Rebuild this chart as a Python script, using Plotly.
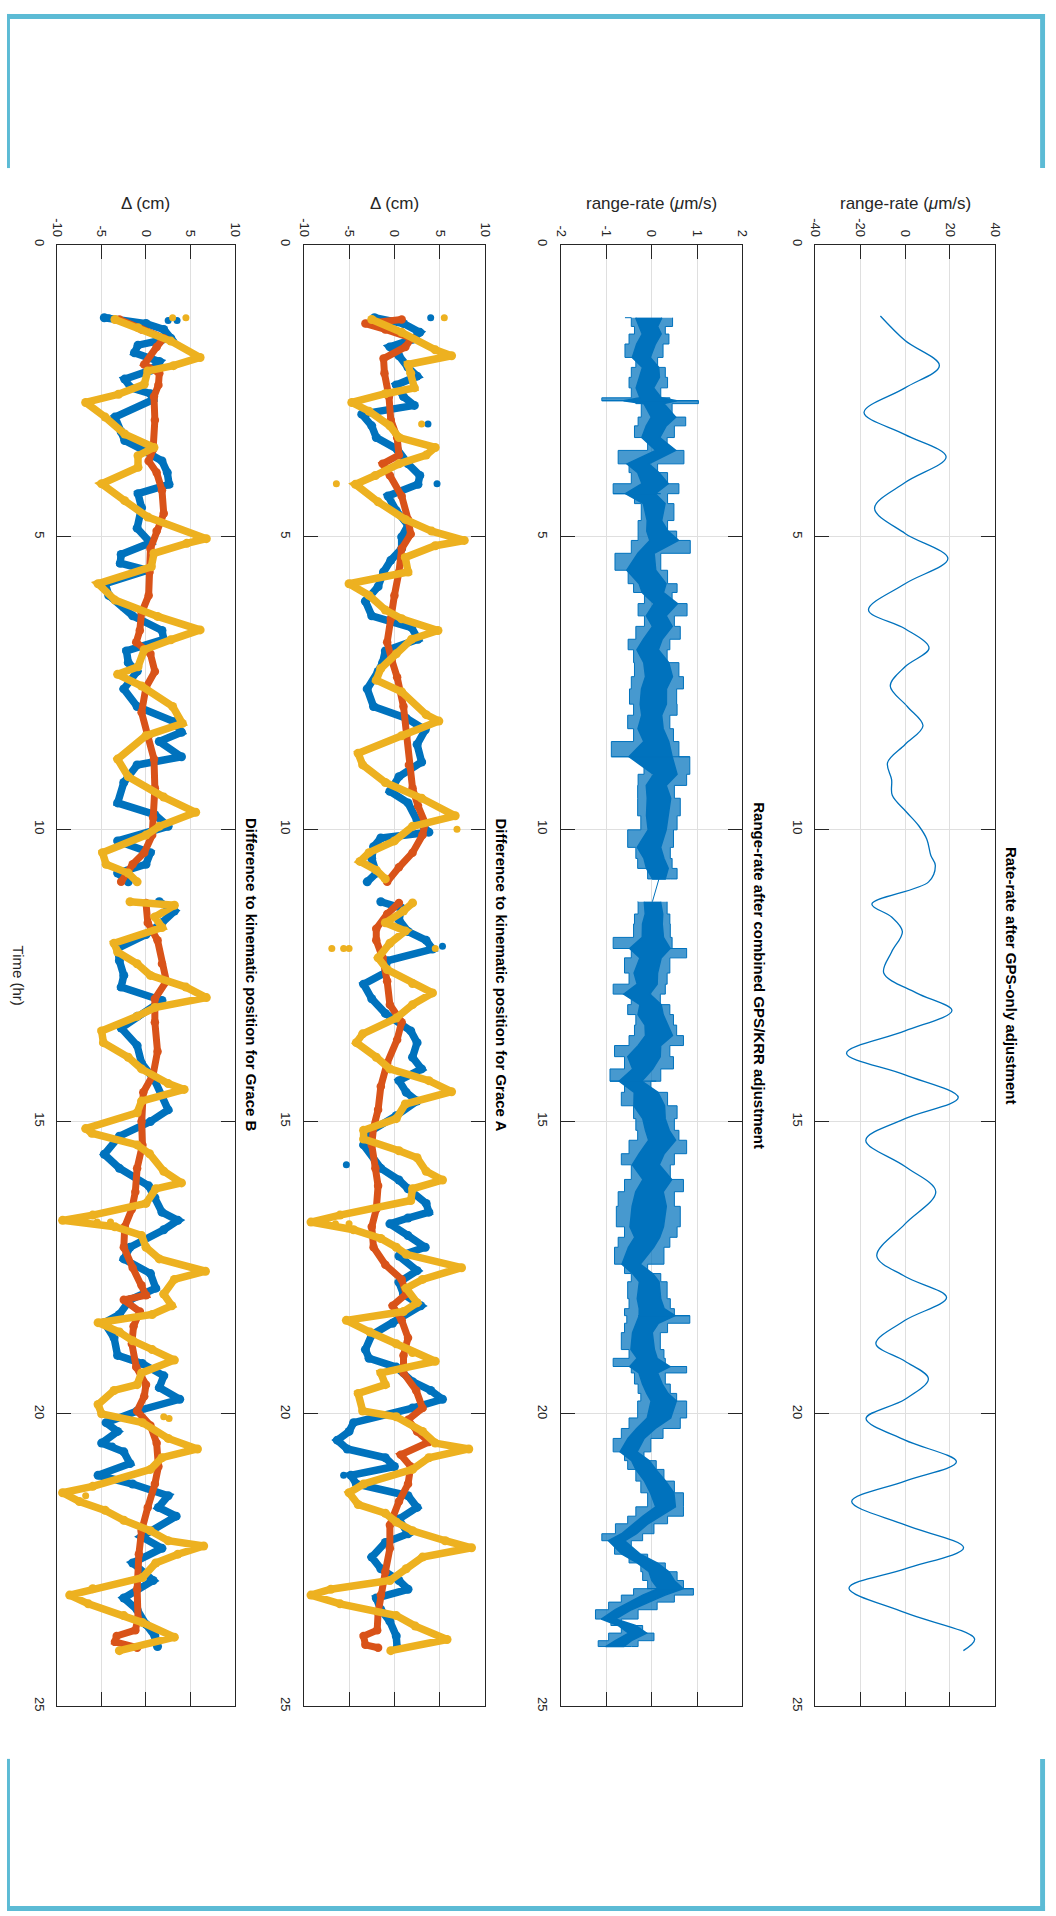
import plotly.graph_objects as go

W, H = 1056, 1916
FONT = "Liberation Sans, Arial, Helvetica, sans-serif"
INK = "#262626"
GRID = "#DFDFDF"
BLUE, RED, YELLOW = "#0072BD", "#D95319", "#EDB120"
BLUE_HAZE = "rgba(0,114,189,0.72)"
FRAME = "#5CBBD5"

# ---------------------------------------------------------------- data
# time (hr) ticks shared by every panel
time_ticks = [0, 5, 10, 15, 20, 25]

# Rate-rate after GPS-only adjustment: (time hr, range-rate um/s)
gps_only = [(1.22, -11.0), (1.64, 0.0), (2.07, 15.3), (2.45, 0.0), (2.87, -18.3), (3.25, 0.0),
            (3.63, 18.3), (4.07, 0.0), (4.51, -13.6), (4.94, 0.0), (5.37, 19.1), (5.8, 0.0),
            (6.25, -16.3), (6.57, 0.0), (6.9, 10.7), (7.22, 0.0), (7.55, -6.6), (7.9, 1.0),
            (8.23, 8.0), (8.55, 0.0), (8.86, -7.8), (9.15, -6.0), (9.42, -5.7), (9.7, 0.5),
            (9.94, 6.1), (10.17, 9.7), (10.45, 11.5), (10.62, 13.5), (10.9, 10.5), (11.28, -14.8),
            (11.5, -6.0), (11.75, -1.2), (12.1, -6.0), (12.46, -9.5), (12.8, 5.0), (13.1, 20.9),
            (13.45, 0.0), (13.83, -26.1), (14.2, 0.0), (14.59, 23.7), (14.95, 0.0), (15.32, -17.5),
            (15.77, 0.0), (16.2, 13.7), (16.75, 0.0), (17.3, -12.6), (17.65, 0.0), (18.01, 18.5),
            (18.4, 0.0), (18.8, -13.0), (19.1, 0.0), (19.4, 10.4), (19.75, 0.0), (20.08, -17.4),
            (20.45, 0.0), (20.82, 22.9), (21.15, 0.0), (21.5, -23.8), (21.9, 0.0), (22.29, 26.1),
            (22.65, 0.0), (22.98, -25.0), (23.4, 0.0), (23.85, 31.0), (24.05, 26.0)]

# Range-rate after combined GPS/KRR adjustment: (time hr, low, high) of the noisy trace
rr_band = [(1.25, -0.59, 0.46), (1.4, -0.45, 0.30), (1.53, -0.38, 0.38), (1.7, -0.5, 0.25),
           (1.93, -0.59, 0.13), (2.1, -0.35, 0.3), (2.27, -0.45, 0.35), (2.45, -0.5, 0.2),
           (2.62, -0.45, 0.4), (2.67, -1.1, 1.03), (2.72, -0.35, 0.45), (2.95, -0.23, 0.75),
           (3.1, -0.3, 0.5), (3.3, -0.38, 0.34), (3.52, -0.09, 0.71), (3.75, -0.74, 0.13),
           (3.9, -0.5, 0.35), (4.09, -0.45, 0.6), (4.26, -0.85, 0.35), (4.43, -0.38, 0.49),
           (4.72, -0.23, 0.35), (4.9, -0.3, 0.55), (5.06, -0.3, 0.85), (5.28, -0.45, 0.2),
           (5.57, -0.81, 0.35), (5.8, -0.52, 0.56), (5.95, -0.4, 0.45), (6.14, -0.16, 0.78),
           (6.35, -0.3, 0.5), (6.53, -0.16, 0.63), (6.75, -0.35, 0.4), (6.93, -0.52, 0.34),
           (7.15, -0.4, 0.6), (7.39, -0.38, 0.70), (7.6, -0.45, 0.55), (7.86, -0.49, 0.56),
           (8.05, -0.4, 0.4), (8.28, -0.53, 0.48), (8.5, -0.4, 0.6), (8.76, -0.89, 0.84),
           (9.06, -0.17, 0.77), (9.25, -0.3, 0.5), (9.47, -0.31, 0.63), (9.77, -0.31, 0.56),
           (10.01, -0.24, 0.48), (10.31, -0.53, 0.41), (10.5, -0.35, 0.45), (10.67, -0.31, 0.56),
           (10.85, -0.09, 0.41),
           (11.24, -0.31, 0.34), (11.45, -0.3, 0.4), (11.62, -0.38, 0.41), (11.85, -0.4, 0.45),
           (12.04, -0.85, 0.77), (12.2, -0.45, 0.4), (12.46, -0.6, 0.34), (12.65, -0.5, 0.3),
           (12.82, -0.85, 0.19), (13.0, -0.45, 0.4), (13.17, -0.53, 0.48), (13.35, -0.35, 0.55),
           (13.53, -0.38, 0.70), (13.7, -0.5, 0.4), (13.89, -0.82, 0.48), (14.1, -0.6, 0.2),
           (14.31, -0.92, -0.02), (14.5, -0.6, 0.35), (14.73, -0.67, 0.56), (14.95, -0.4, 0.5),
           (15.15, -0.35, 0.6), (15.32, -0.31, 0.77), (15.55, -0.5, 0.5), (15.74, -0.67, 0.41),
           (15.99, -0.45, 0.70), (16.2, -0.6, 0.5), (16.45, -0.74, 0.63), (16.8, -0.78, 0.56),
           (16.98, -0.6, 0.4), (17.15, -0.74, 0.27), (17.44, -0.82, -0.09), (17.6, -0.6, 0.2),
           (17.74, -0.45, 0.34), (18.03, -0.53, 0.41), (18.2, -0.5, 0.5), (18.32, -0.6, 0.84),
           (18.45, -0.55, 0.35), (18.61, -0.6, 0.19), (18.9, -0.67, 0.27), (19.05, -0.5, 0.3),
           (19.19, -0.85, 0.77), (19.3, -0.45, 0.3), (19.49, -0.38, 0.41), (19.65, -0.3, 0.55),
           (19.78, -0.24, 0.77), (20.07, -0.31, 0.63), (20.25, -0.5, 0.25), (20.42, -0.67, -0.02),
           (20.65, -0.85, -0.17), (20.8, -0.6, 0.1), (20.95, -0.53, 0.27), (21.15, -0.35, 0.5),
           (21.35, -0.24, 0.70), (21.59, -0.09, 0.70), (21.75, -0.35, 0.35), (21.88, -0.53, 0.05),
           (22.05, -0.8, -0.2), (22.17, -1.1, -0.45), (22.4, -0.82, -0.09), (22.55, -0.5, 0.3),
           (22.7, -0.24, 0.56), (22.85, -0.2, 0.7), (22.99, -0.09, 0.92), (23.1, -0.4, 0.5),
           (23.22, -0.67, 0.12), (23.35, -0.95, -0.3), (23.51, -1.24, -0.67), (23.62, -0.9, -0.2),
           (23.75, -0.67, 0.05), (23.88, -0.95, -0.3), (23.98, -1.18, -0.45)]
# single-sample excursions of the combined residuals: (time hr, low, high)
rr_spikes = [(2.67, -1.1, 1.03), (4.26, -0.85, 0.2), (8.76, -0.89, 0.84), (12.04, -0.85, 0.77),
             (19.19, -0.85, 0.77), (18.32, -0.3, 0.84), (14.31, -0.92, 0.1), (22.99, -0.1, 0.92)]

# Difference to kinematic position for Grace B: (time hr, delta cm)
grace_b_blue = [(1.25, -4.7), (1.35, 0.0), (1.45, 2.0), (1.6, 2.8), (1.72, -0.9), (1.85, -1.3),
                (2.0, 1.5), (2.15, 0.5), (2.3, -2.4), (2.45, -1.7), (2.55, 0.5), (2.65, 0.8),
                (2.95, -3.5), (3.2, -2.8), (3.35, -2.4), (3.5, -0.5), (3.7, 1.8), (3.9, 2.4),
                (4.1, 2.6), (4.26, -0.9), (4.5, -0.5), (4.85, -1.0), (5.1, 0.5), (5.3, -2.8),
                (5.45, -2.9), (5.57, 0.2), (5.8, -4.6), (6.0, -4.2), (6.2, -2.5), (6.35, -1.5),
                (6.6, 1.8), (6.75, 2.0), (6.95, -2.2), (7.15, -2.0), (7.3, -1.0), (7.6, -2.5),
                (7.9, -1.0), (8.16, 3.2), (8.34, 4.0), (8.5, 1.5), (8.76, 4.0), (8.9, -1.0),
                (9.2, -2.5), (9.55, -3.2), (9.75, 1.0), (9.95, 2.5), (10.2, -3.2), (10.4, 0.5),
                (10.6, 0.0), (10.75, -3.2), (10.9, -2.0),
                (11.24, 1.5), (11.4, 3.2), (11.6, 1.8), (11.8, 0.0), (12.04, -3.2), (12.25, -3.0),
                (12.5, -2.5), (12.7, -2.8), (12.93, 1.8), (13.2, -1.0), (13.4, -2.8), (13.7, -1.0),
                (14.0, -0.5), (14.3, 1.0), (14.55, 1.8), (14.8, 2.5), (15.0, 0.5), (15.25, -3.0),
                (15.56, -4.7), (15.8, -3.0), (16.1, 0.3), (16.3, 1.0), (16.55, 1.8), (16.69, 3.6),
                (16.85, 2.0), (17.15, -1.8), (17.35, -2.5), (17.6, 0.5), (17.85, 1.1), (18.05, -1.8),
                (18.3, -3.0), (18.44, -4.7), (18.7, -3.6), (19.0, -3.2), (19.14, -0.4), (19.35, 2.0),
                (19.55, 1.5), (19.75, 3.8), (19.95, -1.0), (20.15, -4.5), (20.3, -3.2), (20.5, -5.0),
                (20.65, -2.5), (20.85, -1.8), (21.05, -5.4), (21.2, -1.5), (21.4, 2.5), (21.6, 1.4),
                (21.75, 3.4), (22.1, -0.5), (22.3, 1.8), (22.55, -1.5), (22.85, 0.8), (23.15, -2.5),
                (23.35, -1.0), (23.6, 0.0), (23.8, 1.0), (23.98, 1.3)]
grace_b_red = [(1.28, -3.0), (1.45, -0.5), (1.6, 2.0), (1.75, 1.2), (2.05, -0.2), (2.2, 1.5),
               (2.4, 1.4), (2.6, 0.9), (3.0, 1.0), (3.5, 0.8), (3.7, 0.3), (3.9, 1.2), (4.2, 1.8),
               (4.6, 2.0), (4.9, 1.2), (5.2, 0.5), (5.6, 0.4), (6.0, 0.3), (6.3, -0.5), (6.6, -0.7),
               (6.8, -1.1), (7.0, 0.5), (7.3, 1.0), (7.57, 0.0), (8.0, -0.5), (8.4, 0.3), (8.8, 0.9),
               (9.3, 1.0), (9.8, 0.8), (10.1, 0.7), (10.4, -0.2), (10.6, -1.5), (10.9, -2.8),
               (11.26, 0.0), (11.6, 0.2), (11.9, 1.3), (12.3, 1.8), (12.6, 2.3), (12.9, 1.0),
               (13.3, 1.0), (13.8, 1.3), (14.2, 0.8), (14.5, -0.3), (15.0, -0.5), (15.4, -0.4),
               (15.8, -1.0), (16.2, -1.2), (16.5, -1.6), (16.8, -2.4), (17.15, -2.5), (17.5, -1.5),
               (17.8, -0.5), (17.97, 0.0), (18.05, -2.5), (18.25, -0.7), (18.5, -1.4), (18.8, -1.6),
               (19.2, -1.1), (19.5, 0.0), (19.7, -0.2), (19.95, -1.0), (20.2, 0.5), (20.5, 1.2),
               (20.9, 1.4), (21.2, 1.0), (21.6, 0.2), (22.0, -0.5), (22.4, -0.8), (23.0, -1.0),
               (23.5, -0.9), (23.7, -1.2), (23.8, -3.3), (23.9, -3.5), (24.0, -1.0)]
grace_b_yellow = [(1.28, -3.5), (1.42, -0.9), (1.65, 2.8), (1.93, 6.1), (2.07, 3.1), (2.16, 0.2),
                  (2.39, -0.2), (2.56, -3.1), (2.70, -6.8), (2.95, -4.6), (3.24, -2.4), (3.47, 0.9),
                  (3.61, -0.9), (3.81, -0.9), (4.09, -5.0), (4.38, -2.4), (4.66, 0.2), (5.03, 6.8),
                  (5.11, 4.6), (5.28, 0.9), (5.51, 0.6), (5.80, -5.4), (6.08, -3.5), (6.36, 1.3),
                  (6.59, 6.1), (6.76, 2.8), (6.93, -0.2), (7.22, -0.9), (7.35, -3.2), (7.55, -0.5),
                  (7.9, 3.0), (8.19, 4.1), (8.4, 0.0), (8.8, -3.2), (9.1, -2.0), (9.45, 2.0),
                  (9.71, 5.6), (9.95, 1.5), (10.1, 0.0), (10.4, -4.9), (10.6, -4.5), (10.75, -2.0),
                  (10.9, -1.0),
                  (11.24, -1.8), (11.3, 3.2), (11.5, 1.0), (11.68, 1.8), (11.95, -3.6), (12.1, -3.2),
                  (12.3, -1.0), (12.5, 0.5), (12.7, 4.5), (12.88, 6.8), (13.05, 1.0), (13.2, -1.0),
                  (13.45, -5.0), (13.65, -4.8), (13.9, -2.0), (14.1, -0.5), (14.35, 2.5), (14.45, 4.3),
                  (14.65, -0.5), (14.85, -1.0), (15.12, -6.8), (15.2, -6.1), (15.4, -1.0), (15.55, 0.4),
                  (15.85, 2.0), (16.05, 4.0), (16.15, 1.1), (16.4, 0.0), (16.6, -6.0), (16.69, -9.4),
                  (16.8, -3.5), (16.95, -0.5), (17.15, 0.0), (17.35, 1.5), (17.56, 6.7), (17.7, 3.2),
                  (17.95, 2.0), (18.15, 2.9), (18.3, 0.7), (18.44, -5.4), (18.6, -3.0), (18.75, -1.5),
                  (18.9, 0.7), (19.08, 3.2), (19.3, -0.5), (19.5, -1.0), (19.6, -3.6), (19.84, -5.4),
                  (20.0, -5.0), (20.15, -0.4), (20.42, 2.5), (20.6, 5.8), (20.75, 1.8), (20.95, 0.5),
                  (21.24, -6.0), (21.35, -9.4), (21.5, -7.5), (21.65, -4.6), (21.82, -2.5), (22.0, 0.5),
                  (22.17, 2.5), (22.26, 6.5), (22.4, 3.6), (22.55, 1.1), (22.8, -0.4), (22.99, -6.0),
                  (23.1, -8.6), (23.25, -6.5), (23.45, -2.5), (23.57, -0.4), (23.82, 3.2), (24.05, -3.0)]
# isolated samples away from the main tracks (Grace B)
grace_b_blue_stray = [(1.25, -4.2), (1.3, 2.5), (1.3, 3.5), (5.85, -4.9), (20.55, -3.8)]
grace_b_yellow_stray = [(1.25, 3.0), (1.25, 4.5), (16.72, -7.0), (16.72, -5.5), (16.72, -4.0),
                        (20.05, 2.0), (20.08, 2.6), (21.4, -6.8)]

# Difference to kinematic position for Grace A: (time hr, delta cm)
grace_a_blue = [(1.25, -2.2), (1.35, 1.0), (1.5, 2.8), (1.62, 2.0), (1.75, -0.5), (1.9, 0.5),
                (2.1, 1.5), (2.25, 2.5), (2.4, 0.2), (2.6, 1.0), (2.75, 2.2), (2.9, -3.6),
                (3.1, -2.5), (3.3, -2.0), (3.5, 0.3), (3.75, 1.5), (3.95, 2.8), (4.1, 2.6),
                (4.3, -0.7), (4.55, 0.2), (4.8, 1.5), (5.0, 0.8), (5.2, 0.8), (5.4, -0.4),
                (5.6, -1.2), (5.85, -1.8), (6.1, -3.2), (6.35, -2.5), (6.55, 1.9), (6.75, 2.6),
                (6.95, -1.0), (7.15, -1.3), (7.3, -1.8), (7.6, -3.0), (7.9, -2.3), (8.1, 1.3),
                (8.3, 3.4), (8.55, 2.5), (8.85, 3.0), (9.1, 0.5), (9.35, -0.5), (9.55, 1.5),
                (9.85, 2.5), (10.05, 3.8), (10.15, -1.5), (10.3, -2.3), (10.5, -2.5), (10.75, -2.0),
                (10.9, -3.0),
                (11.24, -1.5), (11.35, 0.8), (11.55, 0.5), (11.75, 1.5), (11.9, 3.5), (12.05, 4.2),
                (12.25, -0.8), (12.45, -1.0), (12.65, -3.4), (12.9, -2.5), (13.15, -1.0), (13.45, 1.8),
                (13.65, 2.5), (13.9, 2.0), (14.1, 3.0), (14.3, 0.5), (14.5, 1.3), (14.65, 2.5),
                (14.9, 0.2), (15.2, -3.0), (15.4, -3.4), (15.8, -1.5), (16.0, 0.5), (16.15, 1.5),
                (16.4, 3.5), (16.55, 3.8), (16.65, 1.5), (16.75, -0.5), (16.95, 1.5), (17.15, 3.4),
                (17.3, 0.5), (17.55, 2.5), (17.75, 0.5), (17.95, 1.0), (18.15, 2.9), (18.45, -0.2),
                (18.65, -2.5), (18.9, -3.2), (19.05, -2.8), (19.2, 0.2), (19.45, 2.0), (19.6, 4.0),
                (19.75, 5.3), (19.9, 2.0), (20.15, -4.5), (20.3, -5.0), (20.45, -6.3), (20.6, -5.2),
                (20.75, -1.0), (20.9, 0.0), (21.05, -4.8), (21.2, -4.2), (21.4, 1.5), (21.6, 2.5),
                (21.8, 0.5), (22.05, 1.5), (22.2, -1.0), (22.45, -2.5), (22.65, -1.5), (22.85, 0.5),
                (23.0, 1.5), (23.15, -2.0), (23.35, -1.5), (23.55, -0.5), (23.8, 0.2), (24.0, 0.3)]
grace_a_red = [(1.28, 0.8), (1.35, -3.2), (1.45, -1.0), (1.6, 1.9), (1.75, 1.2), (1.95, -1.2),
               (2.2, -1.1), (2.6, -0.6), (3.0, -0.4), (3.3, 0.3), (3.6, 0.5), (3.75, -1.3),
               (3.95, -0.5), (4.3, 0.8), (4.7, 1.5), (4.95, 1.8), (5.2, 0.8), (5.6, 0.5),
               (6.0, 0.0), (6.4, -0.4), (6.8, -0.8), (7.1, -0.3), (7.4, 0.3), (7.9, 1.0),
               (8.4, 1.3), (8.9, 1.6), (9.3, 2.0), (9.6, 2.6), (9.9, 3.4), (10.1, 3.1),
               (10.4, 2.0), (10.65, 0.5), (10.9, -0.8),
               (11.26, 0.5), (11.45, -0.8), (11.7, -2.0), (11.9, -2.0), (12.2, -1.3), (12.6, -0.8),
               (13.0, -0.5), (13.3, 0.8), (13.6, 0.3), (14.0, -0.8), (14.4, -1.5), (14.8, -1.8),
               (15.1, -2.3), (15.4, -2.5), (15.8, -2.1), (16.1, -1.8), (16.5, -2.0), (16.8, -2.5),
               (17.15, -2.3), (17.45, -1.0), (17.7, 0.8), (17.95, 1.3), (18.15, -0.2), (18.4, 0.8),
               (18.7, 1.5), (19.0, 1.0), (19.3, 1.0), (19.6, 2.4), (19.9, 3.1), (20.1, 1.5),
               (20.3, 2.5), (20.48, 3.8), (20.7, 0.7), (20.9, 1.8), (21.2, 1.5), (21.5, 0.5),
               (21.9, -0.5), (22.3, -0.5), (22.7, -1.0), (23.1, -1.5), (23.4, -1.8), (23.7, -1.9),
               (23.8, -3.4), (23.95, -3.2), (24.0, -1.8)]
grace_a_yellow = [(1.28, -2.5), (1.5, 0.8), (1.8, 4.5), (1.9, 6.3), (2.05, 1.5), (2.2, 1.8),
                  (2.45, 2.2), (2.55, -1.0), (2.7, -4.7), (2.85, -2.8), (3.1, -0.5), (3.3, 0.5),
                  (3.47, 4.5), (3.6, 3.5), (3.75, 0.5), (3.95, -2.1), (4.1, -4.3), (4.4, -1.8),
                  (4.7, 1.2), (4.9, 4.1), (5.06, 7.7), (5.15, 4.5), (5.35, 1.2), (5.6, 1.5),
                  (5.8, -5.0), (6.0, -2.8), (6.25, -1.0), (6.4, 0.8), (6.6, 4.8), (6.75, 1.9),
                  (7.0, 0.2), (7.25, -1.5), (7.45, -2.0), (7.65, 0.8), (8.04, 3.5), (8.15, 4.9),
                  (8.4, 0.8), (8.7, -4.0), (8.9, -3.5), (9.2, -1.0), (9.47, 3.0), (9.77, 6.7),
                  (9.95, 2.0), (10.2, 0.0), (10.4, -2.8), (10.55, -3.8), (10.7, -2.0), (10.85, -1.0),
                  (11.26, 2.0), (11.4, 1.0), (11.6, -1.0), (11.74, 1.2), (11.95, -0.5), (12.2, -1.8),
                  (12.4, -0.8), (12.64, 2.0), (12.8, 4.2), (13.0, 2.0), (13.23, 0.2), (13.5, -3.5),
                  (13.65, -4.2), (13.9, -2.0), (14.1, -0.5), (14.3, 3.8), (14.49, 6.3), (14.7, 1.2),
                  (14.95, 0.2), (15.15, -3.4), (15.3, -3.4), (15.5, 0.5), (15.62, 2.5), (15.85, 3.5),
                  (16.0, 5.3), (16.15, 2.0), (16.35, 1.8), (16.6, -6.0), (16.72, -9.2), (16.85, -4.5),
                  (17.0, -1.5), (17.15, 0.2), (17.27, 1.3), (17.5, 7.4), (17.7, 3.1), (17.85, 1.3),
                  (18.1, 2.5), (18.25, 1.0), (18.4, -5.3), (18.6, -2.7), (18.8, 0.2), (18.95, 2.0),
                  (19.1, 4.5), (19.3, -1.5), (19.5, -1.0), (19.65, -4.0), (19.95, -3.5), (20.05, 0.2),
                  (20.3, 3.1), (20.5, 4.5), (20.6, 8.2), (20.75, 3.8), (20.95, 2.0), (21.2, -3.4),
                  (21.35, -5.0), (21.55, -4.0), (21.7, -1.0), (21.85, 0.2), (22.0, 2.0), (22.17, 5.6),
                  (22.29, 8.5), (22.45, 3.1), (22.65, 1.3), (22.85, -0.5), (23.0, -7.0), (23.1, -9.2),
                  (23.25, -6.0), (23.45, 0.2), (23.63, 2.3), (23.86, 5.8), (24.05, -0.4)]
# isolated samples away from the main tracks (Grace A)
grace_a_blue_stray = [(1.25, 4.0), (3.07, 3.7), (4.09, 4.7), (12.0, 5.3), (15.74, -5.3),
                      (21.05, -5.6)]
grace_a_yellow_stray = [(1.25, 5.5), (3.07, 3.0), (4.09, -6.4), (12.04, -6.9), (12.04, -5.6),
                        (12.04, -5.0), (12.04, 4.5), (16.75, -6.5), (16.75, -5.0), (10.0, 6.9)]

# outage in the kinematic positions (hr)
DATA_GAP = (10.95, 11.2)

# ---------------------------------------------------------------- layout geometry (px)
TOP, BOTTOM = 240, 1710
PANELS = [(51, 231), (301, 485), (562, 746), (820, 1002)]
CORE = 0.55   # share of the noise band drawn as its dense core


def fx(px):
    return px / W


def fy(py):
    return 1 - py / H


def track(rows):
    """Split a (t, v) series where it crosses the data outage."""
    xs, ys, prev = [], [], None
    for t, v in rows:
        if prev is not None and prev < DATA_GAP[0] and t > DATA_GAP[1]:
            xs.append(None)
            ys.append(None)
        xs.append(v)
        ys.append(t)
        prev = t
    return xs, ys


def dots(rows, n, col):
    return go.Scatter(x=[v for _, v in rows], y=[t for t, _ in rows], mode="markers",
                      marker=dict(color=col, size=7), xaxis=f"x{n}", yaxis=f"y{n}",
                      hoverinfo="skip", showlegend=False)


fig = go.Figure()

# Grace B (panel 1) and Grace A (panel 2): blue, red, yellow tracks
for n, series, strays in ((1, (grace_b_blue, grace_b_red, grace_b_yellow),
                           (grace_b_blue_stray, grace_b_yellow_stray)),
                          (2, (grace_a_blue, grace_a_red, grace_a_yellow),
                           (grace_a_blue_stray, grace_a_yellow_stray))):
    fig.add_trace(dots(strays[0], n, BLUE))
    for rows, col, w in zip(series, (BLUE, RED, YELLOW), (7.5, 7, 7.5)):
        xs, ys = track(rows)
        fig.add_trace(go.Scatter(
            x=xs, y=ys, mode="lines+markers",
            line=dict(color=col, width=w), marker=dict(color=col, size=w + 1.5),
            xaxis=f"x{n}", yaxis=f"y{n}", hoverinfo="skip", showlegend=False))
    fig.add_trace(dots(strays[1], n, YELLOW))

# combined GPS/KRR range-rate residuals, split at the outage
segments, cur = [], []
for row in rr_band:
    if cur and cur[-1][0] < DATA_GAP[0] and row[0] > DATA_GAP[1]:
        segments.append(cur)
        cur = []
    cur.append(row)
segments.append(cur)

for seg in segments:
    ts = [r[0] for r in seg]
    lo = [r[1] for r in seg]
    hi = [r[2] for r in seg]
    mid = [(a + b) / 2 for a, b in zip(lo, hi)]
    half = [(b - a) / 2 * CORE for a, b in zip(lo, hi)]
    # outer envelope with stepped, ragged edges
    fig.add_trace(go.Scatter(
        x=hi + lo[::-1], y=ts + ts[::-1], mode="lines", fill="toself",
        fillcolor=BLUE_HAZE, line=dict(color=BLUE, width=1, shape="vh"),
        xaxis="x3", yaxis="y3", hoverinfo="skip", showlegend=False))
    # dense core
    cx = [m + h for m, h in zip(mid, half)] + [m - h for m, h in zip(mid, half)][::-1]
    fig.add_trace(go.Scatter(
        x=cx, y=ts + ts[::-1], mode="lines", fill="toself",
        fillcolor=BLUE, line=dict(color=BLUE, width=1.5),
        xaxis="x3", yaxis="y3", hoverinfo="skip", showlegend=False))

# single-sample excursions
sx, sy = [], []
for t, a, b in rr_spikes:
    sx += [a, b, None]
    sy += [t, t, None]
fig.add_trace(go.Scatter(
    x=sx, y=sy, mode="lines", line=dict(color=BLUE, width=1.2),
    xaxis="x3", yaxis="y3", hoverinfo="skip", showlegend=False))

# straight connector drawn across the outage
a, b = segments[0][-1], segments[1][0]
fig.add_trace(go.Scatter(
    x=[(a[1] + a[2]) / 2, (b[1] + b[2]) / 2], y=[a[0], b[0]], mode="lines",
    line=dict(color=BLUE, width=1), xaxis="x3", yaxis="y3",
    hoverinfo="skip", showlegend=False))

# GPS-only range-rate
fig.add_trace(go.Scatter(
    x=[v for _, v in gps_only], y=[t for t, _ in gps_only], mode="lines",
    line=dict(color=BLUE, width=1.3, shape="spline", smoothing=1.0),
    xaxis="x4", yaxis="y4", hoverinfo="skip", showlegend=False))

# ---------------------------------------------------------------- axes
value_axes = [
    ([-10, 10], [-10, -5, 0, 5, 10]),
    ([-10, 10], [-10, -5, 0, 5, 10]),
    ([-2, 2], [-2, -1, 0, 1, 2]),
    ([-40, 40], [-40, -20, 0, 20, 40]),
]
axis_titles = ["\u0394 (cm)", "\u0394 (cm)",
               "range-rate (<i>\u03bc</i>m/s)", "range-rate (<i>\u03bc</i>m/s)"]
panel_titles = ["Difference to kinematic position for Grace B",
                "Difference to kinematic position for Grace A",
                "Range-rate after combined GPS/KRR adjustment",
                "Rate-rate after GPS-only adjustment"]

common = dict(
    ticks="inside", ticklen=14, tickwidth=1, tickcolor=INK,
    showline=True, linecolor=INK, linewidth=1, mirror="ticks",
    showgrid=True, gridcolor=GRID, gridwidth=1, zeroline=False,
    tickangle=90, tickfont=dict(family=FONT, size=13, color=INK),
    fixedrange=True,
)

annotations = []
for i, ((x0, x1), (rng, tv)) in enumerate(zip(PANELS, value_axes), start=1):
    fig.layout[f"xaxis{i}"] = dict(
        domain=[fx(x0), fx(x1)], range=rng, tickvals=tv, ticktext=[str(v) for v in tv],
        side="top", anchor=f"y{i}", ticklabelstandoff=2, **common)
    fig.layout[f"yaxis{i}"] = dict(
        domain=[fy(BOTTOM), fy(TOP)], range=[25, 0], tickvals=time_ticks,
        ticktext=[str(v) for v in time_ticks], side="left", anchor=f"x{i}",
        ticklabelstandoff=6, **common)
    cx = (x0 + x1) / 2
    annotations.append(dict(
        text=axis_titles[i - 1], x=fx(cx), y=fy(199), xref="paper", yref="paper",
        showarrow=False, xanchor="center", yanchor="middle",
        font=dict(family=FONT, size=17, color=INK)))
    annotations.append(dict(
        text=f"<b>{panel_titles[i - 1]}</b>", x=fx(x1 + 17), y=fy((TOP + BOTTOM) / 2),
        xref="paper", yref="paper", showarrow=False, textangle=90,
        xanchor="center", yanchor="middle",
        font=dict(family=FONT, size=15, color="#000000")))

annotations.append(dict(
    text="Time (hr)", x=fx(12), y=fy((TOP + BOTTOM) / 2), xref="paper", yref="paper",
    showarrow=False, textangle=90, xanchor="center", yanchor="middle",
    font=dict(family=FONT, size=15, color=INK)))

# light-blue page frame, open along both sides
frame = [(0, 1053, 8, 13), (0, 3, 8, 163), (1048, 1053, 8, 163),
         (0, 3, 1763, 1916), (1048, 1053, 1763, 1916), (0, 1053, 1911, 1916)]
shapes = [dict(type="rect", xref="paper", yref="paper",
               x0=fx(a0), x1=fx(a1), y0=fy(b1), y1=fy(b0),
               fillcolor=FRAME, line=dict(width=0), layer="above")
          for a0, a1, b0, b1 in frame]

fig.update_layout(
    width=W, height=H, margin=dict(l=0, r=0, t=0, b=0),
    paper_bgcolor="white", plot_bgcolor="white",
    font=dict(family=FONT, color=INK),
    annotations=annotations, shapes=shapes, showlegend=False,
)

fig.write_html("out.html")
